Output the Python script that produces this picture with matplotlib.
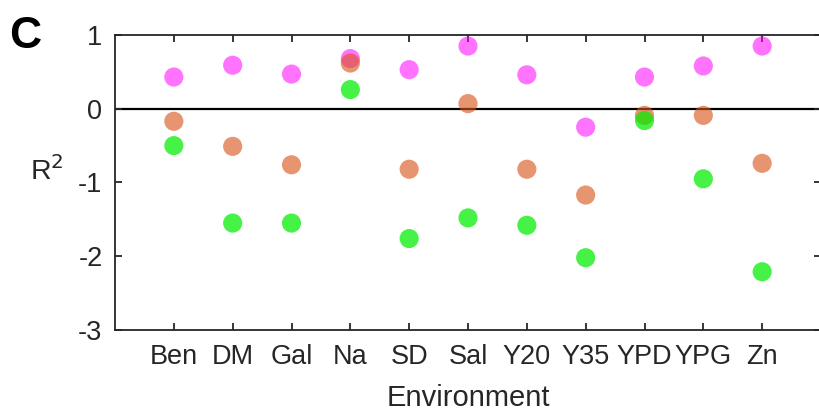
import matplotlib
matplotlib.use("Agg")
import matplotlib.pyplot as plt
import numpy as np

plt.rcParams['font.family'] = ['Liberation Sans', 'DejaVu Sans']

envs = ["Ben", "DM", "Gal", "Na", "SD", "Sal", "Y20", "Y35", "YPD", "YPG", "Zn"]
r2_magenta = [0.43, 0.59, 0.47, 0.68, 0.53, 0.85, 0.46, -0.25, 0.43, 0.58, 0.85]
r2_orange = [-0.17, -0.51, -0.76, 0.62, -0.82, 0.07, -0.82, -1.17, -0.09, -0.09, -0.74]
r2_green = [-0.50, -1.55, -1.55, 0.26, -1.76, -1.48, -1.58, -2.02, -0.16, -0.95, -2.21]
yticks = [-3, -2, -1, 0, 1]

fig = plt.figure(figsize=(8.19, 4.11), dpi=100)
ax = fig.add_axes([115 / 819, 81 / 411, 706 / 819, 295 / 411])

x = np.arange(1, len(envs) + 1)
ax.axhline(0, color="black", lw=1.6, zorder=1)
ax.scatter(x, r2_magenta, s=190, color="#ff00ff", alpha=0.55, edgecolors="none", zorder=3)
ax.scatter(x, r2_orange, s=190, color="#d95319", alpha=0.62, edgecolors="none", zorder=3)
ax.scatter(x, r2_green, s=190, color="#00ee00", alpha=0.72, edgecolors="none", zorder=3)

ax.set_xlim(0, len(envs) + 1)
ax.set_ylim(-3, 1)
ax.set_xticks(x)
ax.set_xticklabels(envs)
ax.set_yticks(yticks)
ax.set_yticklabels([str(v) for v in yticks])

for s in ax.spines.values():
    s.set_color("#262626")
    s.set_linewidth(1.3)
ax.tick_params(direction="in", length=5, width=1.3, color="#262626",
               labelsize=19.5, labelcolor="#262626", pad=10,
               top=True, right=True)
ax.tick_params(axis="y", pad=9)

ax.set_xlabel("Environment", fontsize=21, color="#262626", labelpad=10)
ax.set_ylabel("R$^2$", fontsize=20.5, color="#262626", rotation=0, labelpad=26, va="center")
ax.yaxis.set_label_coords(-0.097, 0.54)

fig.text(9 / 819, 1 - 48 / 411, "C", fontsize=32, fontweight="bold", color="black")

fig.savefig("out.png", dpi=100)
